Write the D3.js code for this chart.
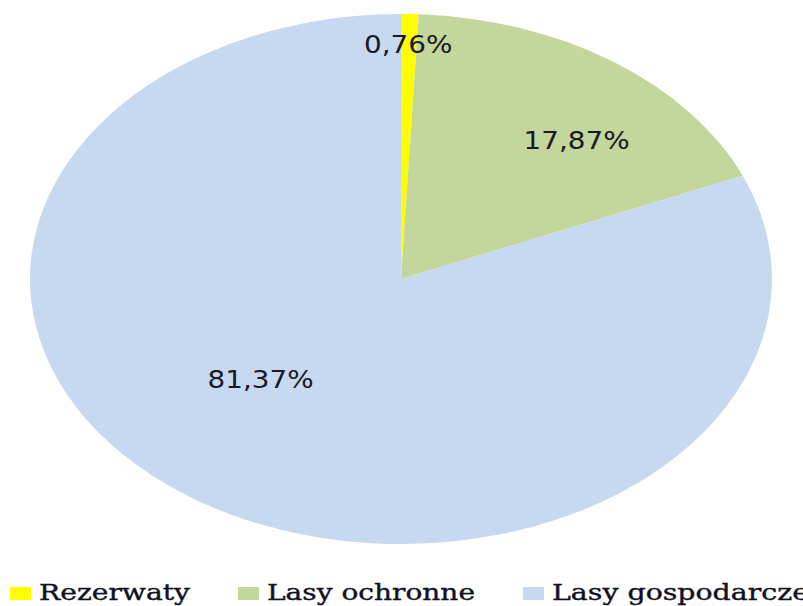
<!DOCTYPE html>
<html>
<head>
<meta charset="utf-8">
<script src="https://cdn.jsdelivr.net/npm/d3@7"></script>
<style>
  html, body { margin: 0; padding: 0; background: #fff; }
  svg { display: block; }
</style>
</head>
<body>
<svg id="chart" width="803" height="606"></svg>
<script>
// Chart data
const categories = ['Rezerwaty', 'Lasy ochronne', 'Lasy gospodarcze'];
const shares = [0.76, 17.87, 81.37];
const shareLabels = ['0,76%', '17,87%', '81,37%'];
const colors = ['#ffff00', '#c3d69b', '#c6d9f1'];

const width = 803;
const height = 606;
// The pie is drawn as an ellipse: circle of radius ry stretched in x.
const cx = 401;
const cy = 279;
const rx = 371;
const ry = 265;
const sx = rx / ry;

// Label placement: centroid of a ring at 70% radius, then nudged.
const labelFrac = 0.7;
const labelNudge = [[1, -49], [27, 13], [3, -54]];

// Legend layout
const legend = {y: 587, box: [21, 13], gap: 8, spacing: 48, x0: 10,
  textWidths: [151, 208, 257]};

const svg = d3.select('#chart');

const pie = d3.pie().sort(null).value((d) => d);
const arcs = pie(shares);
const arc = d3.arc().innerRadius(0).outerRadius(ry);
const labelArc = d3.arc()
  .innerRadius(ry * labelFrac)
  .outerRadius(ry * labelFrac);

// Slices
svg.append('g')
  .attr('transform', `translate(${cx},${cy}) scale(${sx},1)`)
  .selectAll('path')
  .data(arcs)
  .join('path')
  .attr('d', arc)
  .attr('fill', (d, i) => colors[i]);

// Percentage labels
svg.append('g')
  .selectAll('text')
  .data(arcs)
  .join('text')
  .attr('transform', (d, i) => {
    const [x, y] = labelArc.centroid(d);
    const px = cx + sx * x + labelNudge[i][0];
    const py = cy + y + labelNudge[i][1];
    return `translate(${px},${py}) scale(1.16,1)`;
  })
  .attr('text-anchor', 'middle')
  .attr('dy', '0.36em')
  .attr('font-family', 'DejaVu Sans, Verdana, sans-serif')
  .attr('font-size', 24)
  .attr('fill', '#1a1a26')
  .text((d, i) => shareLabels[i]);

// Legend
let lx = legend.x0;
const lg = svg.append('g');
categories.forEach((name, i) => {
  lg.append('rect')
    .attr('x', lx)
    .attr('y', legend.y)
    .attr('width', legend.box[0])
    .attr('height', legend.box[1])
    .attr('fill', colors[i]);
  lg.append('text')
    .attr('x', lx + legend.box[0] + legend.gap)
    .attr('y', legend.y + 13)
    .attr('font-family', 'DejaVu Serif, Cambria, serif')
    .attr('font-size', 23)
    .attr('fill', '#111122')
    .attr('stroke', '#111122')
    .attr('stroke-width', 0.4)
    .attr('textLength', legend.textWidths[i])
    .attr('lengthAdjust', 'spacingAndGlyphs')
    .text(name);
  lx += legend.box[0] + legend.gap + legend.textWidths[i] + legend.spacing;
});
</script>
</body>
</html>
